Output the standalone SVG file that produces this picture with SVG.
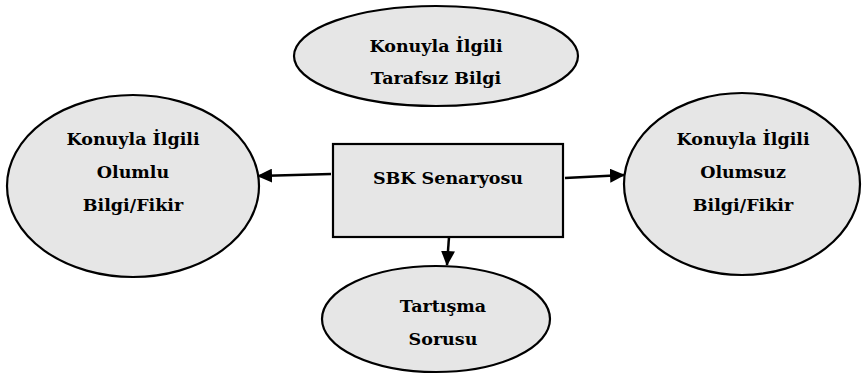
<svg xmlns="http://www.w3.org/2000/svg" width="863" height="376" viewBox="0 0 863 376">
<style>
.n{fill:#e6e6e6;stroke:#000;stroke-width:2.2}
.t{font-family:"DejaVu Serif","Liberation Serif",serif;font-weight:bold;font-size:17.5px;text-anchor:middle;fill:#000}
.c{stroke:#000;stroke-width:2.5;fill:none;marker-end:url(#a)}
</style>
<defs>
<marker id="a" markerWidth="15" markerHeight="14" refX="14" refY="7" orient="auto" markerUnits="userSpaceOnUse" viewBox="0 0 15 14">
<path d="M0,0 L15,7 L0,14 z" fill="#000"/>
</marker>
</defs>
<rect width="863" height="376" fill="#fff"/>
<g id="top">
<ellipse class="n" cx="436" cy="56" rx="142" ry="50"/>
<text class="t" x="436" y="52">Konuyla İlgili</text>
<text class="t" x="436" y="84">Tarafsız Bilgi</text>
</g>
<g id="left">
<ellipse class="n" cx="133" cy="186" rx="126" ry="91"/>
<text class="t" x="133" y="145">Konuyla İlgili</text>
<text class="t" x="133" y="178">Olumlu</text>
<text class="t" x="133" y="211">Bilgi/Fikir</text>
</g>
<g id="right">
<ellipse class="n" cx="742" cy="184" rx="118" ry="91"/>
<text class="t" x="743" y="145">Konuyla İlgili</text>
<text class="t" x="743" y="178">Olumsuz</text>
<text class="t" x="743" y="211">Bilgi/Fikir</text>
</g>
<g id="center">
<rect class="n" x="333" y="144" width="230" height="93"/>
<text class="t" x="448" y="184">SBK Senaryosu</text>
</g>
<g id="bottom">
<ellipse class="n" cx="436" cy="319" rx="114" ry="53"/>
<text class="t" x="443" y="312">Tartışma</text>
<text class="t" x="443" y="345">Sorusu</text>
</g>
<g id="connectors">
<line class="c" x1="331" y1="174" x2="258" y2="176"/>
<line class="c" x1="565" y1="178" x2="624" y2="175"/>
<line class="c" x1="449" y1="237" x2="447" y2="265"/>
</g>
</svg>
